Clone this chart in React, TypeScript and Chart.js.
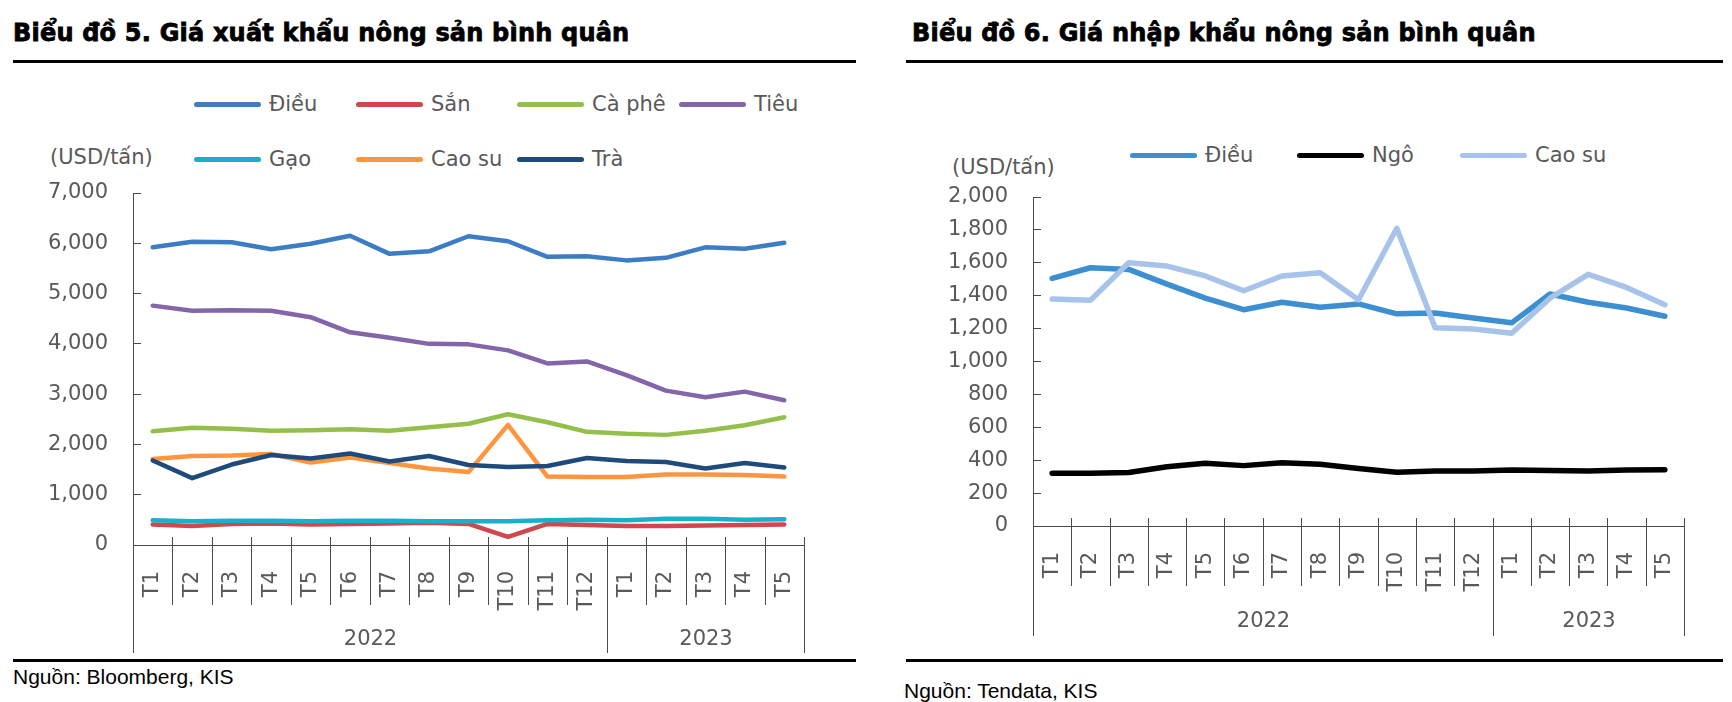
import React, { useEffect, useRef } from "react";
import { Chart, registerables } from "chart.js";

Chart.register(...registerables);

// ---------- DATA ----------
const months = ["T1", "T2", "T3", "T4", "T5", "T6", "T7", "T8", "T9", "T10", "T11", "T12", "T1", "T2", "T3", "T4", "T5"];
const yearLabels = ["2022", "2023"];
const yearSpans = [12, 5];

// Biểu đồ 5 – export prices (USD/tấn)
const exportNames = ["Điều", "Sắn", "Cà phê", "Tiêu", "Gạo", "Cao su", "Trà"];
const exportColors = ["#3C7DC6", "#D0474D", "#95BF4B", "#8366A9", "#18B0CB", "#FF963D", "#1F4A7C"];
const dieuExport = [5920, 6030, 6020, 5880, 5990, 6150, 5790, 5840, 6140, 6040, 5730, 5740, 5660, 5710, 5920, 5890, 6010];
const sanExport = [410, 380, 420, 430, 410, 420, 430, 440, 420, 160, 420, 400, 380, 380, 390, 400, 410];
const capheExport = [2260, 2330, 2310, 2270, 2280, 2300, 2270, 2340, 2410, 2600, 2440, 2250, 2210, 2190, 2270, 2380, 2540];
const tieuExport = [4760, 4660, 4670, 4660, 4530, 4230, 4120, 4000, 3990, 3870, 3610, 3650, 3380, 3070, 2940, 3050, 2880];
const gaoExport = [490, 470, 480, 480, 470, 480, 480, 470, 470, 470, 490, 500, 490, 520, 520, 500, 510];
const caosuExport = [1710, 1770, 1780, 1810, 1640, 1740, 1630, 1520, 1450, 2390, 1360, 1350, 1350, 1400, 1400, 1390, 1360];
const traExport = [1680, 1330, 1600, 1790, 1720, 1820, 1660, 1770, 1590, 1550, 1570, 1730, 1670, 1650, 1520, 1630, 1540];
const exportSeries = [dieuExport, sanExport, capheExport, tieuExport, gaoExport, caosuExport, traExport];

// Biểu đồ 6 – import prices (USD/tấn)
const importNames = ["Điều", "Ngô", "Cao su"];
const importColors = ["#3C8FD0", "#000000", "#A8C3EA"];
const dieuImport = [1505, 1570, 1560, 1470, 1385, 1315, 1360, 1330, 1350, 1290, 1295, 1265, 1235, 1410, 1360, 1325, 1275];
const ngoImport = [320, 320, 325, 360, 382, 367, 385, 375, 350, 327, 335, 335, 340, 338, 335, 340, 342];
const caosuImport = [1380, 1372, 1600, 1580, 1520, 1430, 1520, 1540, 1375, 1810, 1205, 1198, 1172, 1385, 1530, 1450, 1345];
const importSeries = [dieuImport, ngoImport, caosuImport];

const exportTitle = "Biểu đồ 5. Giá xuất khẩu nông sản bình quân";
const importTitle = "Biểu đồ 6. Giá nhập khẩu nông sản bình quân";
const exportSource = "Nguồn: Bloomberg, KIS";
const importSource = "Nguồn: Tendata, KIS";
const unitLabel = "(USD/tấn)";

// ---------- STYLE / LAYOUT ----------
const FONT = "'DejaVu Sans', Verdana, sans-serif";
const TEXT = "#595959";
const AXIS = "#4a4a4a";

type Cfg = {
  canvasLeft: number;
  canvasTop: number;
  width: number;
  height: number;
  area: { left: number; top: number; right: number; bottom: number };
  yMax: number;
  yStep: number;
  lineWidth: number;
  dividerLen: number;
  groupLen: number;
  groupLabelOffset: number;
};

const leftCfg: Cfg = {
  canvasLeft: 0,
  canvasTop: 170,
  width: 866,
  height: 500,
  area: { left: 133, top: 193, right: 804, bottom: 545 },
  yMax: 7000,
  yStep: 1000,
  lineWidth: 4.5,
  dividerLen: 60,
  groupLen: 108,
  groupLabelOffset: 95,
};

const rightCfg: Cfg = {
  canvasLeft: 866,
  canvasTop: 170,
  width: 866,
  height: 500,
  area: { left: 1033, top: 197, right: 1684, bottom: 526 },
  yMax: 2000,
  yStep: 200,
  lineWidth: 5.5,
  dividerLen: 60,
  groupLen: 110,
  groupLabelOffset: 96,
};

const groupAxisPlugin = (cfg: Cfg) => ({
  id: "groupAxis",
  afterDraw(chart: any) {
    const x = chart.scales.x;
    const ctx = chart.ctx;
    const axisY = chart.chartArea.bottom;
    const n = chart.data.labels.length;
    const edge = (i: number) => Math.round(x.getPixelForValue(i - 0.5)) + 0.5;
    ctx.save();
    ctx.strokeStyle = AXIS;
    ctx.lineWidth = 1;
    ctx.beginPath();
    for (let i = 0; i <= n; i++) {
      const px = edge(i);
      ctx.moveTo(px, axisY - 8);
      ctx.lineTo(px, axisY + cfg.dividerLen);
    }
    const bounds = [0];
    yearSpans.forEach((s) => bounds.push(bounds[bounds.length - 1] + s));
    bounds.forEach((b) => {
      const px = edge(b);
      ctx.moveTo(px, axisY);
      ctx.lineTo(px, axisY + cfg.groupLen);
    });
    ctx.stroke();
    ctx.fillStyle = TEXT;
    ctx.font = `21px ${FONT}`;
    ctx.textAlign = "center";
    ctx.textBaseline = "middle";
    yearLabels.forEach((lab, gi) => {
      const cx = (edge(bounds[gi]) + edge(bounds[gi + 1])) / 2;
      ctx.fillText(lab, cx, axisY + cfg.groupLabelOffset);
    });
    ctx.restore();
  },
});

function LineChart({ cfg, series, colors }: { cfg: Cfg; series: number[][]; colors: string[] }) {
  const ref = useRef<HTMLCanvasElement>(null);
  useEffect(() => {
    if (!ref.current) return;
    const want = {
      left: cfg.area.left - cfg.canvasLeft,
      right: cfg.area.right - cfg.canvasLeft,
      top: cfg.area.top - cfg.canvasTop,
      bottom: cfg.area.bottom - cfg.canvasTop,
    };
    const lay = {
      padTop: want.top,
      padRight: cfg.width - want.right,
      yWidth: want.left,
      xHeight: cfg.height - want.bottom,
    };
    const chart: any = new Chart(ref.current, {
      type: "line",
      data: {
        labels: months,
        datasets: series.map((d, i) => ({
          data: d,
          borderColor: colors[i],
          backgroundColor: colors[i],
          borderWidth: cfg.lineWidth,
          pointRadius: 0,
          tension: 0,
          fill: false,
          order: -i,
          borderCapStyle: "round",
          borderJoinStyle: "round",
        })),
      },
      options: {
        animation: false,
        responsive: false,
        maintainAspectRatio: false,
        devicePixelRatio: 1,
        layout: { padding: { top: lay.padTop, right: lay.padRight, left: 0, bottom: 0 } },
        plugins: { legend: { display: false }, tooltip: { enabled: false } },
        scales: {
          x: {
            type: "category",
            offset: true,
            grid: { display: false },
            border: { display: true, color: AXIS, width: 1 },
            ticks: {
              autoSkip: false,
              maxRotation: 90,
              minRotation: 90,
              padding: 18,
              color: TEXT,
              font: { family: FONT, size: 21 },
            },
            afterFit: (s: any) => {
              s.height = lay.xHeight;
              s.paddingLeft = 0;
              s.paddingRight = 0;
            },
          },
          y: {
            min: 0,
            max: cfg.yMax,
            grid: { drawOnChartArea: false, drawTicks: true, tickLength: -8, color: AXIS, lineWidth: 1 },
            border: { display: true, color: AXIS, width: 1 },
            ticks: {
              stepSize: cfg.yStep,
              padding: 33,
              color: TEXT,
              font: { family: FONT, size: 21 },
            },
            afterFit: (s: any) => {
              s.width = lay.yWidth;
              s.paddingTop = 0;
              s.paddingBottom = 0;
            },
          },
        },
      },
      plugins: [groupAxisPlugin(cfg)],
    } as any);
    // correct any residual layout drift so the plot area lands where intended
    for (let k = 0; k < 3; k++) {
      const a = chart.chartArea;
      const dTop = want.top - a.top;
      const dBottom = want.bottom - a.bottom;
      const dLeft = want.left - a.left;
      const dRight = want.right - a.right;
      if (Math.abs(dTop) < 0.5 && Math.abs(dBottom) < 0.5 && Math.abs(dLeft) < 0.5 && Math.abs(dRight) < 0.5) break;
      lay.padTop += dTop;
      lay.xHeight -= dBottom;
      lay.yWidth += dLeft;
      lay.padRight -= dRight;
      chart.options.layout.padding = { top: lay.padTop, right: lay.padRight, left: 0, bottom: 0 };
      chart.update();
    }
    return () => chart.destroy();
  }, []);
  return (
    <canvas
      ref={ref}
      width={cfg.width}
      height={cfg.height}
      style={{ position: "absolute", left: cfg.canvasLeft, top: cfg.canvasTop, width: cfg.width, height: cfg.height }}
    />
  );
}

const legendLeftPos = [
  [194, 104],
  [356, 104],
  [517, 104],
  [679, 104],
  [194, 159],
  [356, 159],
  [517, 159],
];
const legendRightPos = [
  [1130, 155],
  [1297, 155],
  [1460, 155],
];

function Legend({ names, colors, pos }: { names: string[]; colors: string[]; pos: number[][] }) {
  return (
    <>
      {names.map((n, i) => (
        <div
          key={i}
          style={{
            position: "absolute",
            left: pos[i][0],
            top: pos[i][1] - 15,
            height: 30,
            display: "flex",
            alignItems: "center",
            whiteSpace: "nowrap",
          }}
        >
          <span
            style={{
              display: "inline-block",
              width: 67,
              height: 5,
              borderRadius: 2.5,
              background: colors[i],
              marginRight: 8,
            }}
          />
          <span style={{ fontFamily: FONT, fontSize: 21, lineHeight: "21px", color: TEXT }}>{n}</span>
        </div>
      ))}
    </>
  );
}

const titleStyle: React.CSSProperties = {
  position: "absolute",
  top: 21,
  fontFamily: FONT,
  fontWeight: 700,
  fontSize: 24,
  lineHeight: "24px",
  letterSpacing: 0.2,
  color: "#000",
  whiteSpace: "nowrap",
  WebkitTextStroke: "0.8px #000",
};
const sourceStyle: React.CSSProperties = {
  position: "absolute",
  fontFamily: "'Liberation Sans', Arial, sans-serif",
  fontSize: 21,
  lineHeight: "21px",
  color: "#000",
  whiteSpace: "nowrap",
};
const unitStyle: React.CSSProperties = {
  position: "absolute",
  fontFamily: FONT,
  fontSize: 21,
  lineHeight: "24px",
  color: TEXT,
  whiteSpace: "nowrap",
};
const rule = (left: number, top: number, width: number): React.CSSProperties => ({
  position: "absolute",
  left,
  top,
  width,
  height: 3,
  background: "#000",
});

export default function App() {
  useEffect(() => {
    document.body.style.margin = "0";
  }, []);
  return (
    <div style={{ position: "absolute", left: 0, top: 0, width: 1732, height: 702, background: "#fff", overflow: "hidden" }}>
      <div style={{ ...titleStyle, left: 13 }}>{exportTitle}</div>
      <div style={{ ...titleStyle, left: 912 }}>{importTitle}</div>
      <div style={rule(13, 60, 843)} />
      <div style={rule(906, 60, 817)} />
      <div style={rule(13, 659, 843)} />
      <div style={rule(906, 659, 817)} />
      <div style={{ ...sourceStyle, left: 13, top: 666 }}>{exportSource}</div>
      <div style={{ ...sourceStyle, left: 904, top: 680 }}>{importSource}</div>
      <div style={{ ...unitStyle, left: 50, top: 145 }}>{unitLabel}</div>
      <div style={{ ...unitStyle, left: 952, top: 155 }}>{unitLabel}</div>
      <Legend names={exportNames} colors={exportColors} pos={legendLeftPos} />
      <Legend names={importNames} colors={importColors} pos={legendRightPos} />
      <LineChart cfg={leftCfg} series={exportSeries} colors={exportColors} />
      <LineChart cfg={rightCfg} series={importSeries} colors={importColors} />
    </div>
  );
}
